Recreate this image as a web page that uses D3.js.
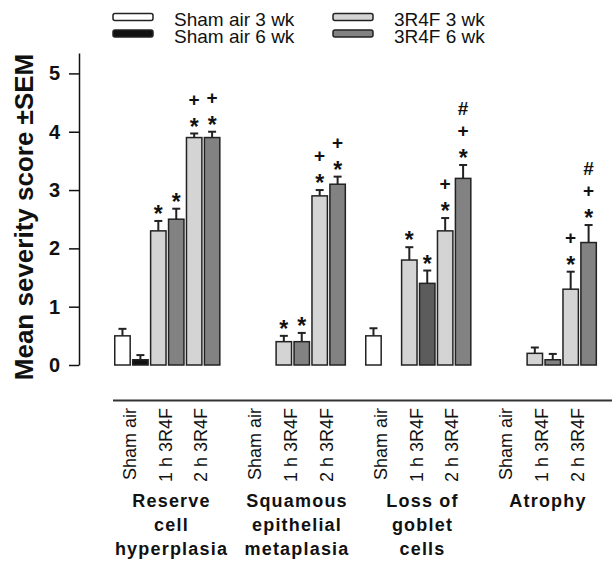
<!DOCTYPE html>
<html>
<head>
<meta charset="utf-8">
<script src="https://cdnjs.cloudflare.com/ajax/libs/d3/7.8.5/d3.min.js"></script>
<style>
  body { margin: 0; background: #fff; }
  svg { font-family: "Liberation Sans", Arial, sans-serif; }
</style>
</head>
<body>
<svg id="chart" width="612" height="563"></svg>
<script>
// series shown in the legend, one per bar slot in a group
var seriesNames = ["Sham air 3 wk", "Sham air 6 wk", "3R4F 3 wk", "3R4F 6 wk"];
// bar slot -> series index (sham 3wk, sham 6wk, 1h 3wk, 1h 6wk, 2h 3wk, 2h 6wk)
var slotSeries = [0, 1, 2, 3, 2, 3];
var exposures = ["Sham air", "1 h 3R4F", "2 h 3R4F"];
var groupLabels = [
    ["Reserve", "cell", "hyperplasia"],
    ["Squamous", "epithelial", "metaplasia"],
    ["Loss of", "goblet", "cells"],
    ["Atrophy"]
];
// mean severity score, null = no bar
var means = [
    [0.5, 0.09, 2.3, 2.5, 3.9, 3.9],
    [null, null, 0.4, 0.4, 2.9, 3.1],
    [0.5, null, 1.8, 1.4, 2.3, 3.2],
    [null, null, 0.2, 0.09, 1.3, 2.1]
];
var sems = [
    [0.12, 0.08, 0.17, 0.18, 0.07, 0.1],
    [null, null, 0.1, 0.15, 0.1, 0.13],
    [0.13, null, 0.22, 0.22, 0.22, 0.23],
    [null, null, 0.1, 0.1, 0.3, 0.3]
];
// significance marks above each bar, bottom to top
var marks = [
    ["", "", "*", "*", "*+", "*+"],
    ["", "", "*", "*", "*+", "*+"],
    ["", "", "*", "*", "*+", "*+#"],
    ["", "", "", "", "*+", "*+#"]
];
var yTicks = [0, 1, 2, 3, 4, 5];

var svg = d3.select("#chart");
var fills = ["#ffffff", "#111111", "#d4d4d4", "#828282"];
var stroke = "#222";

var y = d3.scaleLinear().domain([0, 5.35]).range([365, 53]);
var x0 = d3.scaleBand().domain(d3.range(groupLabels.length)).range([113.5, 615.5]);
var x1 = d3.scaleBand().domain(d3.range(7)).range([0, x0.bandwidth()]);
var barW = x1.bandwidth() * 0.86;
var barOff = (x1.bandwidth() - barW) / 2;

// y axis
var yAxis = svg.append("g")
    .attr("transform", "translate(79,0)")
    .call(d3.axisLeft(y).tickValues(yTicks).tickFormat(d3.format("d"))
        .tickSize(10).tickPadding(9).tickSizeOuter(0));
yAxis.select(".domain").attr("stroke", "#111").attr("stroke-width", 1.5);
yAxis.selectAll(".tick line").attr("stroke", "#111").attr("stroke-width", 1.5);
yAxis.selectAll(".tick text")
    .attr("font-size", 20).attr("font-weight", "bold").attr("fill", "#111")
    .attr("font-family", "Liberation Sans, Arial, sans-serif");

svg.append("text")
    .attr("transform", "translate(33,217) rotate(-90)")
    .attr("text-anchor", "middle")
    .attr("font-size", 26).attr("font-weight", "bold").attr("fill", "#111")
    .text("Mean severity score \u00b1SEM");

// x axis line
svg.append("line")
    .attr("x1", 113).attr("x2", 612).attr("y1", 400.5).attr("y2", 400.5)
    .attr("stroke", "#333").attr("stroke-width", 2);

// flatten bars
var bars = [];
means.forEach(function (row, g) {
    row.forEach(function (v, s) {
        if (v === null) return;
        bars.push({g: g, s: s, v: v, e: sems[g][s], m: marks[g][s]});
    });
});

function barX(d) { return x0(d.g) + x1(d.s) + barOff; }

var bar = svg.append("g").selectAll("g").data(bars).enter().append("g");

// error whiskers (upper only)
bar.append("line")
    .attr("x1", function (d) { return barX(d) + barW / 2; })
    .attr("x2", function (d) { return barX(d) + barW / 2; })
    .attr("y1", function (d) { return y(d.v); })
    .attr("y2", function (d) { return y(d.v + d.e); })
    .attr("stroke", stroke).attr("stroke-width", 2);
bar.append("line")
    .attr("x1", function (d) { return barX(d) + barW / 2 - 4; })
    .attr("x2", function (d) { return barX(d) + barW / 2 + 4; })
    .attr("y1", function (d) { return y(d.v + d.e); })
    .attr("y2", function (d) { return y(d.v + d.e); })
    .attr("stroke", stroke).attr("stroke-width", 2);

bar.append("rect")
    .attr("x", barX)
    .attr("y", function (d) { return y(d.v); })
    .attr("width", barW)
    .attr("height", function (d) { return y(0) - y(d.v); })
    .attr("fill", function (d) {
        // the 1 h / 6 wk goblet-cell bar is printed in a darker grey
        if (d.g === 2 && d.s === 3) return "#5c5c5c";
        return fills[slotSeries[d.s]];
    })
    .attr("stroke", stroke).attr("stroke-width", 1.5);

// significance marks
var markLift = {"*": 0.55, "+": 0.33, "#": 0.36};
bar.each(function (d) {
    var cx = barX(d) + barW / 2;
    var top = y(d.v + d.e);
    d.m.split("").forEach(function (ch, i) {
        var fs = ch === "*" ? 23 : 19;
        var center = top - 11.5 - i * 22.5;
        d3.select(this).append("text")
            .attr("x", cx).attr("y", center + markLift[ch] * fs)
            .attr("text-anchor", "middle")
            .attr("font-size", fs).attr("font-weight", "bold").attr("fill", "#111")
            .text(ch);
    }, this);
});

// exposure labels under the axis
groupLabels.forEach(function (lab, g) {
    exposures.forEach(function (name, k) {
        var cx = x0(g) + x1(2 * k) + x1.bandwidth() - 2;
        svg.append("text")
            .attr("transform", "translate(" + cx + ",408) rotate(-90)")
            .attr("text-anchor", "end")
            .attr("dy", "0.35em")
            .attr("font-size", 18).attr("fill", "#111")
            .text(name);
    });
    var t = svg.append("text")
        .attr("text-anchor", "middle")
        .attr("font-size", 18).attr("font-weight", "bold").attr("fill", "#111")
        .attr("letter-spacing", 1.2);
    lab.forEach(function (line, i) {
        t.append("tspan")
            .attr("x", x0(g) + 58)
            .attr("y", 506.5 + i * 24)
            .text(line);
    });
});

// legend
var legend = svg.append("g").selectAll("g").data(seriesNames).enter().append("g")
    .attr("transform", function (d, i) {
        return "translate(" + (i < 2 ? 113 : 333) + "," + (i % 2 === 0 ? 13.5 : 30) + ")";
    });
legend.append("rect")
    .attr("width", 40).attr("height", 7).attr("rx", 2)
    .attr("fill", function (d, i) { return fills[i]; })
    .attr("stroke", stroke).attr("stroke-width", 1.5);
legend.append("text")
    .attr("x", 61).attr("y", 12.5)
    .attr("font-size", 19).attr("fill", "#111")
    .text(function (d) { return d; });
</script>
</body>
</html>
